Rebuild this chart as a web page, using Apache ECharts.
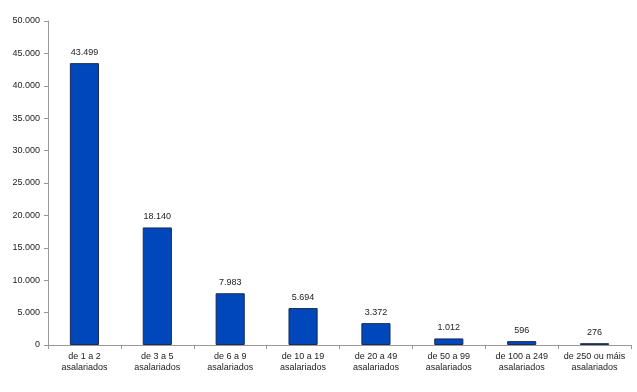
<!DOCTYPE html>
<html><head><meta charset="utf-8">
<script src="https://cdn.jsdelivr.net/npm/echarts@6/dist/echarts.min.js"></script>
<style>html,body{margin:0;padding:0;background:#fff}#c{width:637px;height:392px}</style>
</head><body><div id="c"></div>
<script>
const categories = ["de 1 a 2\nasalariados","de 3 a 5\nasalariados","de 6 a 9\nasalariados","de 10 a 19\nasalariados","de 20 a 49\nasalariados","de 50 a 99\nasalariados","de 100 a 249\nasalariados","de 250 ou máis\nasalariados"];
const values = [43499, 18140, 7983, 5694, 3372, 1012, 596, 276];
const yMin = 0, yMax = 50000, yStep = 5000;

const fmt = v => String(v).replace(/\B(?=(\d{3})+(?!\d))/g, '.');
const chart = echarts.init(document.getElementById('c'), null, {renderer:'canvas'});
chart.setOption({
  animation:false,
  grid:{left:48,right:6,top:21,bottom:47,containLabel:false},
  xAxis:{type:'category',data:categories,
    axisLine:{lineStyle:{color:'#999',width:1}},
    axisTick:{show:true,alignWithLabel:false,length:4,lineStyle:{color:'#999'}},
    axisLabel:{color:'#222',fontFamily:'Liberation Sans, Arial',fontSize:9,lineHeight:11,margin:6,interval:0}},
  yAxis:{type:'value',min:yMin,max:yMax,interval:yStep,
    splitLine:{show:false},
    axisLine:{show:true,lineStyle:{color:'#999',width:1}},
    axisTick:{show:true,length:4,lineStyle:{color:'#999'}},
    axisLabel:{color:'#222',fontFamily:'Liberation Sans, Arial',fontSize:9,margin:8,formatter:fmt}},
  series:[{type:'bar',data:values,barWidth:'40%',
    itemStyle:{color:'#0047BB',borderColor:'#1a2a50',borderWidth:1},
    label:{show:true,position:'top',distance:6,color:'#222',fontFamily:'Liberation Sans, Arial',fontSize:9,formatter:p=>fmt(p.value)}}]
});
</script></body></html>
